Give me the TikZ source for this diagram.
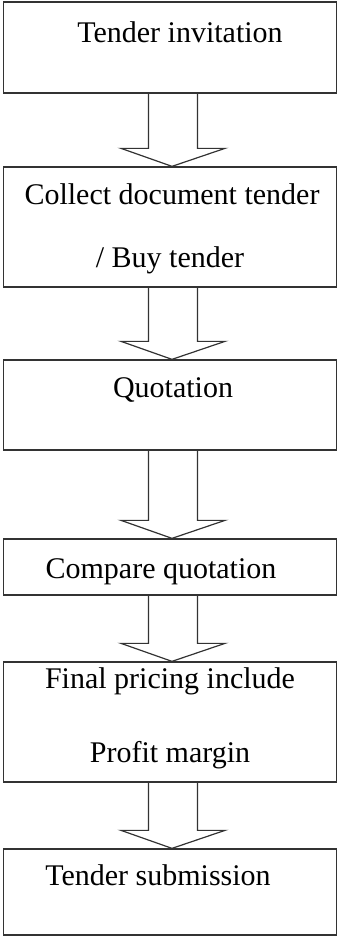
\documentclass[tikz,border=0pt]{standalone}
\usepackage{fontspec}
\setmainfont{Liberation Serif}
\usetikzlibrary{positioning, calc}
\tikzstyle{stepbox}  = [rectangle, draw=black!80, line width=1.3pt,
                        minimum width=333pt, inner sep=0pt]
\tikzstyle{steptext} = [font=\fontsize{30}{36}\selectfont, inner sep=0pt, anchor=base]
\tikzstyle{hollow}   = [draw=black!80, line width=1.2pt, line join=miter]

% open block arrow from the bottom of one box to the top of the next
\newcommand{\hollowarrow}[2]{%
  \draw[hollow] ($(#1.south)+(-21.5,0)$) -- ($(#2.north)+(-21.5,18)$) -- ++(-27.5,0)
    -- ($(#2.north)+(2,0)$) -- ($(#2.north)+(55,18)$) -- ++(-27.5,0)
    -- ($(#1.south)+(27.5,0)$);}

\begin{document}
\begin{tikzpicture}[x=1pt, y=1pt]
  \useasboundingbox (0,0) rectangle (339,-937);

  % Boxes
  \node (b1) [stepbox, minimum height=91pt]  at (170,-47.5) {};
  \node (b2) [stepbox, minimum height=120pt] at (170,-227)  {};
  \node (b3) [stepbox, minimum height=90pt]  at (170,-405)  {};
  \node (b4) [stepbox, minimum height=56pt]  at (170,-567)  {};
  \node (b5) [stepbox, minimum height=120pt] at (170,-722)  {};
  \node (b6) [stepbox, minimum height=86pt]  at (170,-892)  {};

  % Texts
  \node (t1)  [steptext] at (180,-42)  {Tender invitation};
  \node (t2a) [steptext] at (172,-204) {Collect document tender};
  \node (t2b) [steptext] at (170,-267) {/ Buy tender};
  \node (t3)  [steptext] at (173,-397) {Quotation};
  \node (t4)  [steptext] at (161,-578) {Compare quotation};
  \node (t5a) [steptext] at (170,-688) {Final pricing include};
  \node (t5b) [steptext] at (170,-762) {Profit margin};
  \node (t6)  [steptext] at (158,-885) {Tender submission};

  % Arrows
  \hollowarrow{b1}{b2}
  \hollowarrow{b2}{b3}
  \hollowarrow{b3}{b4}
  \hollowarrow{b4}{b5}
  \hollowarrow{b5}{b6}

\end{tikzpicture}
\end{document}
